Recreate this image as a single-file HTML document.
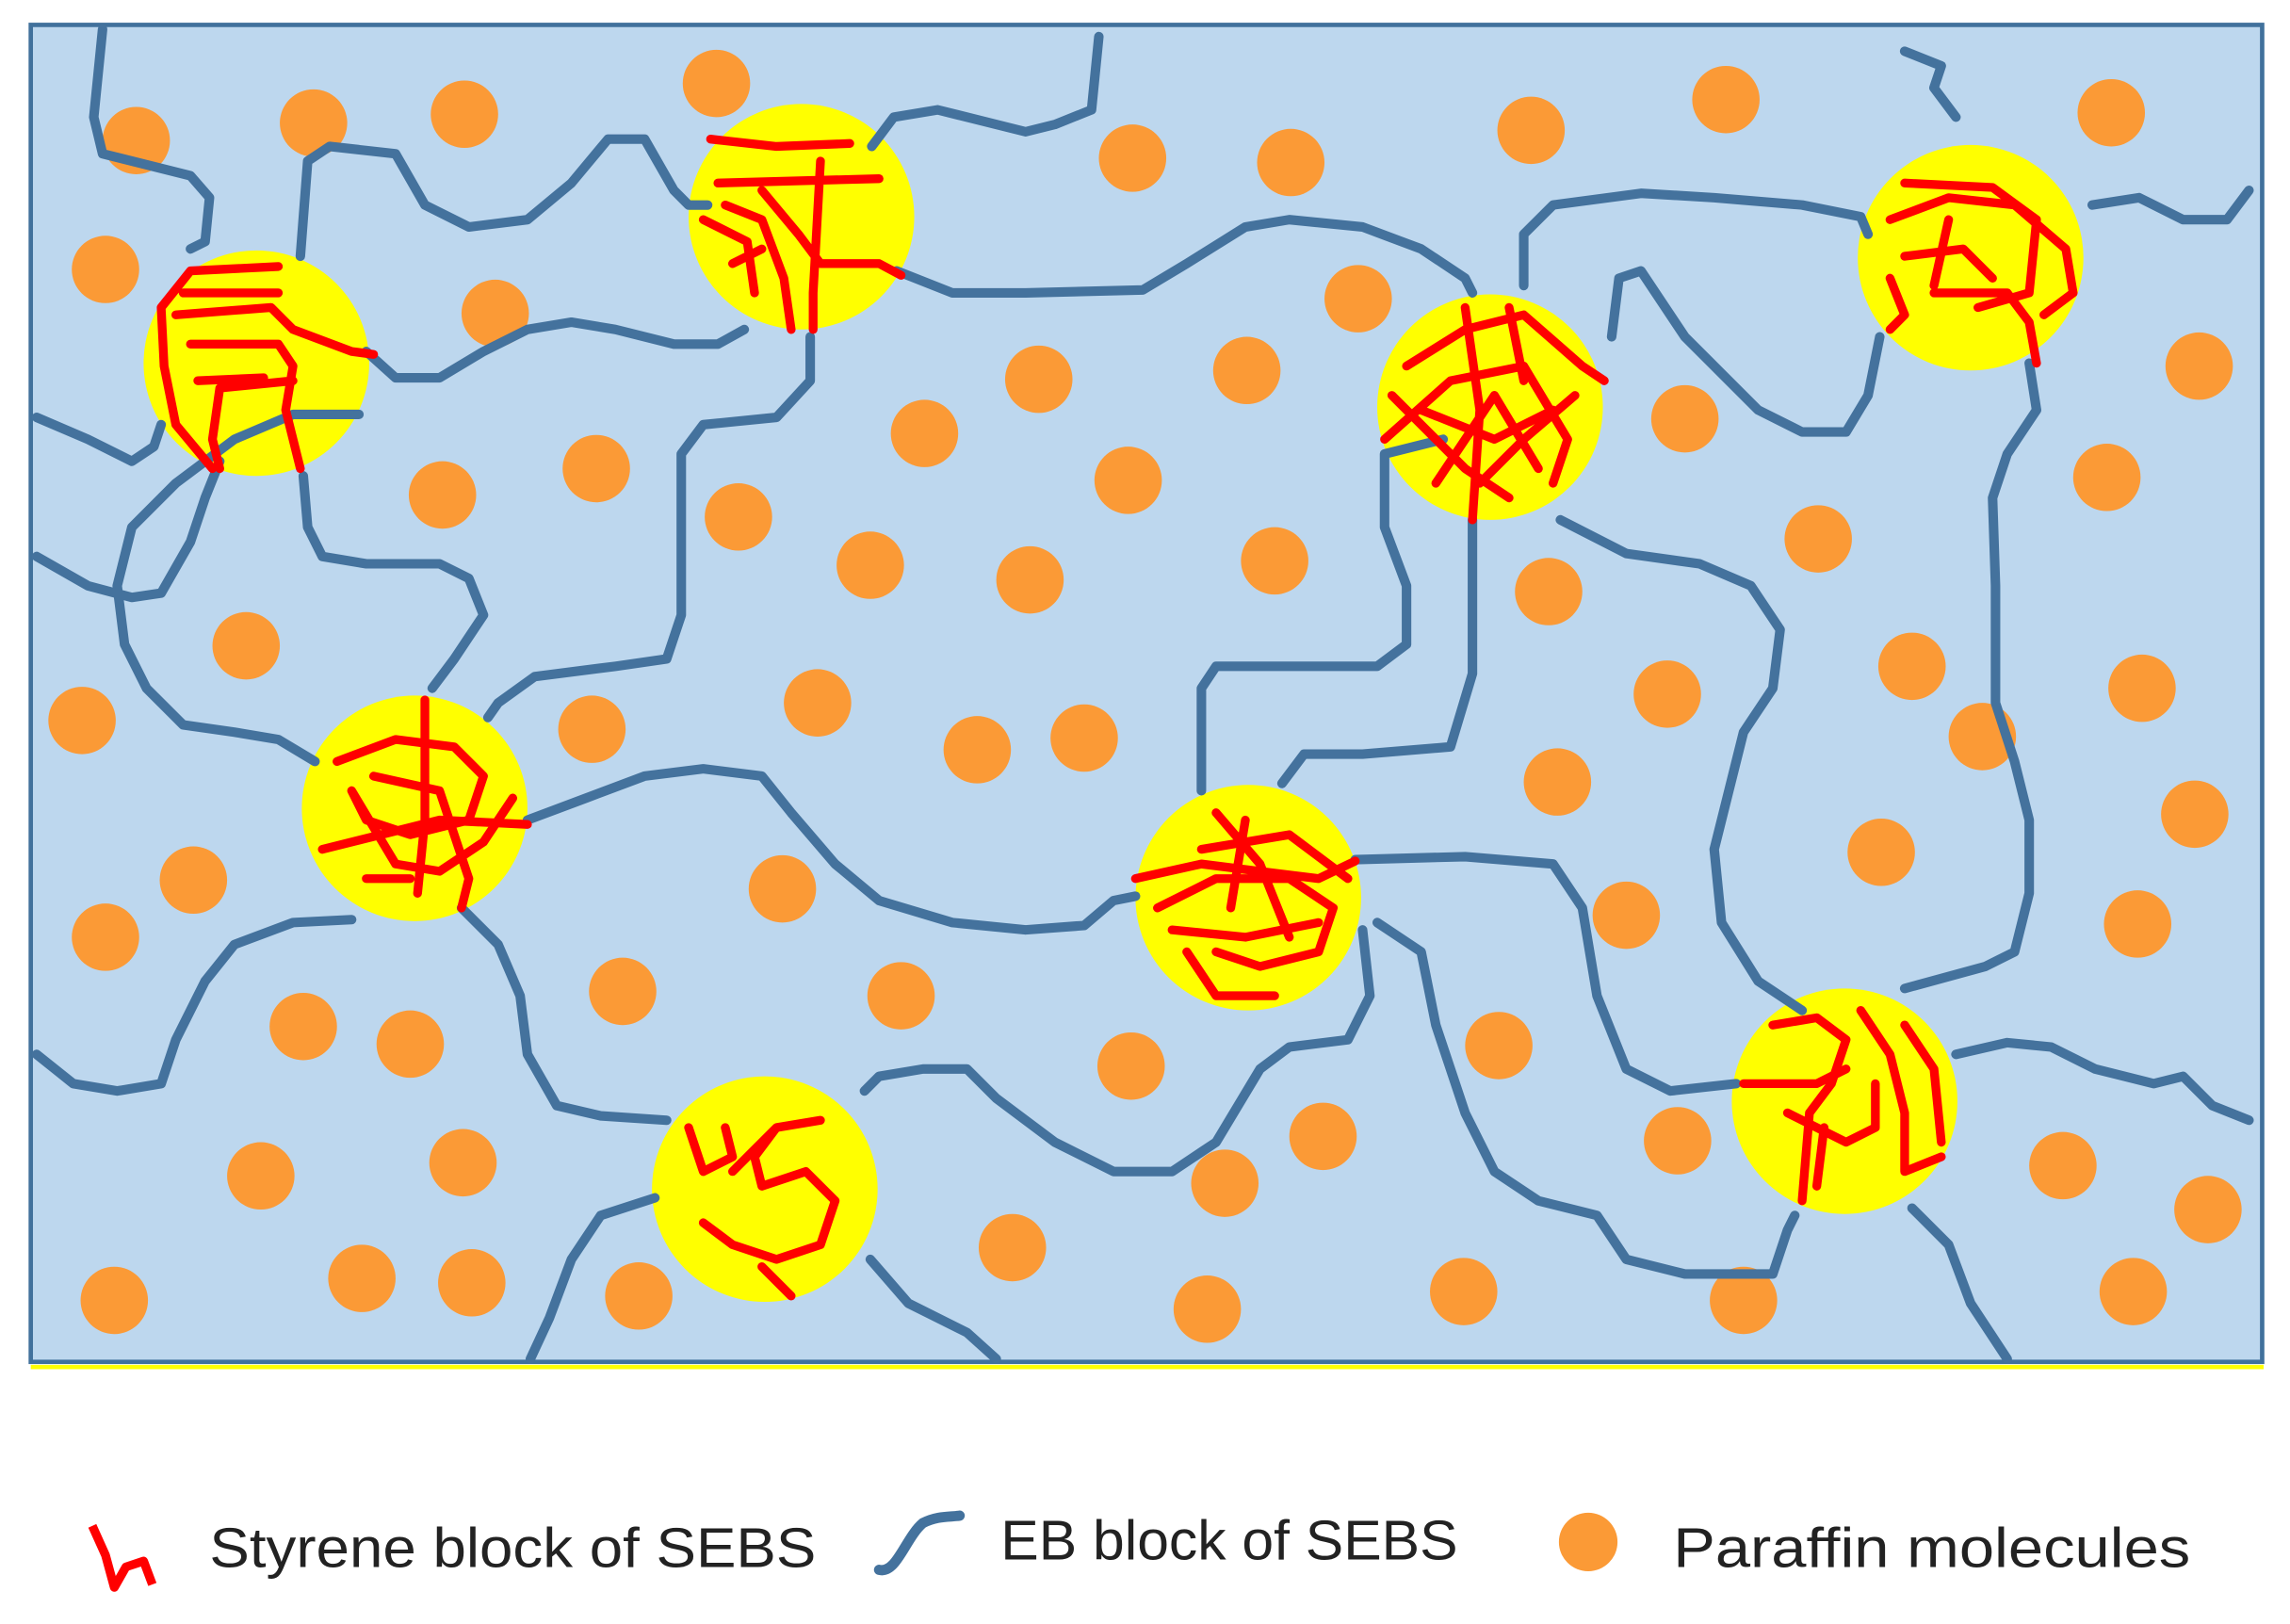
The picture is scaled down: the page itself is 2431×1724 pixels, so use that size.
<!DOCTYPE html>
<html><head><meta charset="utf-8"><style>html,body{margin:0;padding:0;background:#fff}svg{display:block}</style></head>
<body>
<svg width="2431" height="1724" viewBox="0 0 1563 1109" xmlns="http://www.w3.org/2000/svg" preserveAspectRatio="none">
<rect x="21" y="17" width="1523" height="913" fill="#bdd7ee" stroke="#41719c" stroke-width="3"/>
<line x1="21" y1="933.5" x2="1545" y2="933.5" stroke="#ffff00" stroke-width="3"/>
<g fill="#fb9a36">
<circle cx="93" cy="96" r="23"/><circle cx="214" cy="84" r="23"/><circle cx="317" cy="78" r="23"/><circle cx="489" cy="57" r="23"/><circle cx="72" cy="184" r="23"/><circle cx="338" cy="214" r="23"/><circle cx="773" cy="108" r="23"/><circle cx="881" cy="111" r="23"/><circle cx="1045" cy="89" r="23"/><circle cx="1178" cy="68" r="23"/><circle cx="1441" cy="77" r="23"/><circle cx="927" cy="204" r="23"/><circle cx="709" cy="259" r="23"/><circle cx="851" cy="253" r="23"/><circle cx="631" cy="296" r="23"/><circle cx="770" cy="328" r="23"/><circle cx="302" cy="338" r="23"/><circle cx="407" cy="320" r="23"/><circle cx="504" cy="353" r="23"/><circle cx="1150" cy="286" r="23"/><circle cx="1501" cy="250" r="23"/><circle cx="1438" cy="326" r="23"/><circle cx="1241" cy="368" r="23"/><circle cx="594" cy="386" r="23"/><circle cx="703" cy="396" r="23"/><circle cx="870" cy="383" r="23"/><circle cx="1057" cy="404" r="23"/><circle cx="168" cy="441" r="23"/><circle cx="56" cy="492" r="23"/><circle cx="404" cy="498" r="23"/><circle cx="558" cy="480" r="23"/><circle cx="667" cy="512" r="23"/><circle cx="740" cy="504" r="23"/><circle cx="1138" cy="474" r="23"/><circle cx="1305" cy="455" r="23"/><circle cx="1462" cy="470" r="23"/><circle cx="1353" cy="503" r="23"/><circle cx="1063" cy="534" r="23"/><circle cx="1498" cy="556" r="23"/><circle cx="132" cy="601" r="23"/><circle cx="72" cy="640" r="23"/><circle cx="534" cy="607" r="23"/><circle cx="1284" cy="582" r="23"/><circle cx="1110" cy="625" r="23"/><circle cx="1459" cy="631" r="23"/><circle cx="425" cy="677" r="23"/><circle cx="615" cy="680" r="23"/><circle cx="207" cy="701" r="23"/><circle cx="280" cy="713" r="23"/><circle cx="772" cy="728" r="23"/><circle cx="1023" cy="714" r="23"/><circle cx="903" cy="776" r="23"/><circle cx="836" cy="808" r="23"/><circle cx="178" cy="803" r="23"/><circle cx="316" cy="794" r="23"/><circle cx="1145" cy="779" r="23"/><circle cx="1408" cy="796" r="23"/><circle cx="1507" cy="826" r="23"/><circle cx="691" cy="852" r="23"/><circle cx="78" cy="888" r="23"/><circle cx="247" cy="873" r="23"/><circle cx="322" cy="876" r="23"/><circle cx="436" cy="885" r="23"/><circle cx="824" cy="894" r="23"/><circle cx="999" cy="882" r="23"/><circle cx="1190" cy="888" r="23"/><circle cx="1456" cy="882" r="23"/>
</g>
<g fill="#ffff00">
<circle cx="175" cy="248" r="77"/><circle cx="547" cy="148" r="77"/><circle cx="1017" cy="278" r="77"/><circle cx="1345" cy="176" r="77"/><circle cx="283" cy="552" r="77"/><circle cx="852" cy="613" r="77"/><circle cx="522" cy="812" r="77"/><circle cx="1259" cy="752" r="77"/>
</g>
<g fill="none" stroke="#44729d" stroke-width="6.5" stroke-linejoin="round" stroke-linecap="round">
<polyline points="70,20 64,80 70,105 130,120 143,135 140,165 130,170"/>
<polyline points="205,175 210,110 225,100 270,105 290,140 320,155 360,150 390,125 415,95 440,95 460,130 470,140 483,140"/>
<polyline points="595,100 610,80 640,75 700,90 720,85 745,75 750,25"/>
<polyline points="250,240 270,258 300,258 330,240 360,225 390,220 420,225 460,235 490,235 508,225"/>
<polyline points="245,283 200,283 160,300 120,330 90,360 80,400 85,440 100,470 125,495 160,500 190,505 215,520"/>
<polyline points="25,285 60,300 90,315 105,305 110,290"/>
<polyline points="25,380 60,400 90,408 110,405 130,370 140,340 150,315"/>
<polyline points="207,325 210,360 220,380 250,385 300,385 320,395 330,420 310,450 295,470"/>
<polyline points="553,230 553,260 530,285 480,290 465,310 465,350 465,420 455,450 420,455 365,462 340,480 333,490"/>
<polyline points="612,185 650,200 700,200 780,198 810,180 850,155 880,150 930,155 970,170 1000,190 1005,200"/>
<polyline points="1040,195 1040,160 1060,140 1120,132 1170,135 1230,140 1270,148 1275,160"/>
<polyline points="1428,140 1460,135 1490,150 1520,150 1535,130"/>
<polyline points="1300,35 1325,45 1320,60 1335,80"/>
<polyline points="1283,230 1275,270 1260,295 1230,295 1200,280 1175,255 1150,230 1120,185 1105,190 1100,230"/>
<polyline points="1385,248 1390,280 1370,310 1360,340 1362,400 1362,480 1375,520 1385,560 1385,610 1375,650 1355,660 1300,675"/>
<polyline points="1065,355 1110,378 1160,385 1195,400 1215,430 1210,470 1190,500 1180,540 1170,580 1175,630 1200,670 1230,690"/>
<polyline points="985,300 945,310 945,360 960,400 960,440 940,455 900,455 830,455 820,470 820,540"/>
<polyline points="1005,355 1005,400 1005,460 990,510 930,515 890,515 875,535"/>
<polyline points="360,560 400,545 440,530 480,525 520,530 540,555 570,590 600,615 650,630 700,635 740,632 760,615 775,612"/>
<polyline points="925,587 1000,585 1060,590 1080,620 1090,680 1110,730 1140,745 1185,740"/>
<polyline points="930,635 935,680 920,710 880,715 860,730 830,780 800,800 760,800 720,780 680,750 660,730 630,730 600,735 590,745"/>
<polyline points="940,630 970,650 980,700 1000,760 1020,800 1050,820 1090,830 1110,860 1150,870 1210,870 1220,840 1225,830"/>
<polyline points="240,628 200,630 160,645 140,670 120,710 110,740 80,745 50,740 25,720"/>
<polyline points="315,620 340,645 355,680 360,720 380,755 410,762 455,765"/>
<polyline points="447,818 410,830 390,860 375,900 362,928"/>
<polyline points="594,860 620,890 660,910 680,928"/>
<polyline points="1335,720 1370,712 1400,715 1430,730 1470,740 1490,735 1510,755 1535,765"/>
<polyline points="1305,825 1330,850 1345,890 1370,928"/>
</g>
<g fill="none" stroke="#ff0000" stroke-width="6" stroke-linejoin="round" stroke-linecap="round">
<path d="M190,182 L130,185 110,210 112,250 120,290 145,320 M120,215 L185,210 200,225 240,240 255,242 M130,235 L190,235 200,250 195,280 205,320 M135,260 L180,258 M200,260 L150,265 145,300 150,320 M125,200 L190,200"/>
<path d="M485,95 L530,100 580,98 M490,125 L600,122 M495,140 L520,150 535,190 540,225 M480,150 L510,165 515,200 M560,110 L555,200 555,225 M520,130 L545,160 560,180 600,180 615,188 M500,180 L520,170"/>
<path d="M960,250 L1000,225 1040,215 1080,250 1095,260 M945,300 L990,260 1040,250 1070,300 1060,330 M970,280 L1020,300 1060,280 M1000,210 L1010,280 1005,355 M980,330 L1020,270 1050,320 M950,270 L1000,320 1030,340 M1030,210 L1040,260 M1075,270 L1040,300 1010,330"/>
<path d="M1300,125 L1360,128 1390,150 1385,200 1350,210 M1290,150 L1330,135 1375,140 1410,170 1415,200 1395,215 M1300,175 L1340,170 1360,190 M1290,190 L1300,215 1290,225 M1320,200 L1370,200 1385,220 1390,248 M1330,150 L1320,195"/>
<path d="M290,478 L290,560 285,610 M230,520 L270,505 310,510 330,530 320,560 280,570 250,560 240,540 M220,580 L260,570 300,560 360,563 M240,540 L270,590 300,595 330,575 350,545 M255,530 L300,540 320,600 315,620 M250,600 L280,600"/>
<path d="M775,600 L820,590 860,595 900,600 925,588 M790,620 L830,600 880,600 910,620 900,650 860,660 830,650 M810,650 L830,680 870,680 M830,555 L860,590 880,640 M850,560 L840,620 M800,635 L850,640 900,630 M820,580 L880,570 920,600"/>
<path d="M470,770 L480,800 500,790 495,770 M560,765 L530,770 515,790 520,810 550,800 570,820 560,850 530,860 500,850 480,835 M530,770 L500,800 M520,865 L540,885"/>
<path d="M1190,740 L1240,740 1260,730 M1210,700 L1240,695 1260,710 1250,740 1235,760 1230,820 M1220,760 L1260,780 1280,770 1280,740 M1270,690 L1290,720 1300,760 1300,800 1325,790 M1300,700 L1320,730 1325,780 M1245,770 L1240,810"/>
</g>
<path d="M63,1042 L72,1062 L78,1084 L86,1070 L98,1066 L104,1082" fill="none" stroke="#ff0000" stroke-width="6" stroke-linejoin="round"/>
<path d="M600,1072 C612,1075 618,1050 630,1040 C640,1035 648,1036 655,1035" fill="none" stroke="#44729d" stroke-width="7" stroke-linecap="round"/>
<circle cx="1084" cy="1053" r="20" fill="#fb9a36"/>
<g font-family="Liberation Sans, DejaVu Sans, sans-serif" font-size="38" fill="#222">
<text x="143" y="1070" textLength="414" lengthAdjust="spacingAndGlyphs">Styrene block of SEBS</text>
<text x="683" y="1065" textLength="312" lengthAdjust="spacingAndGlyphs">EB block of SEBS</text>
<text x="1142" y="1070" textLength="353" lengthAdjust="spacingAndGlyphs">Paraffin molecules</text>
</g>
</svg>
</body></html>
